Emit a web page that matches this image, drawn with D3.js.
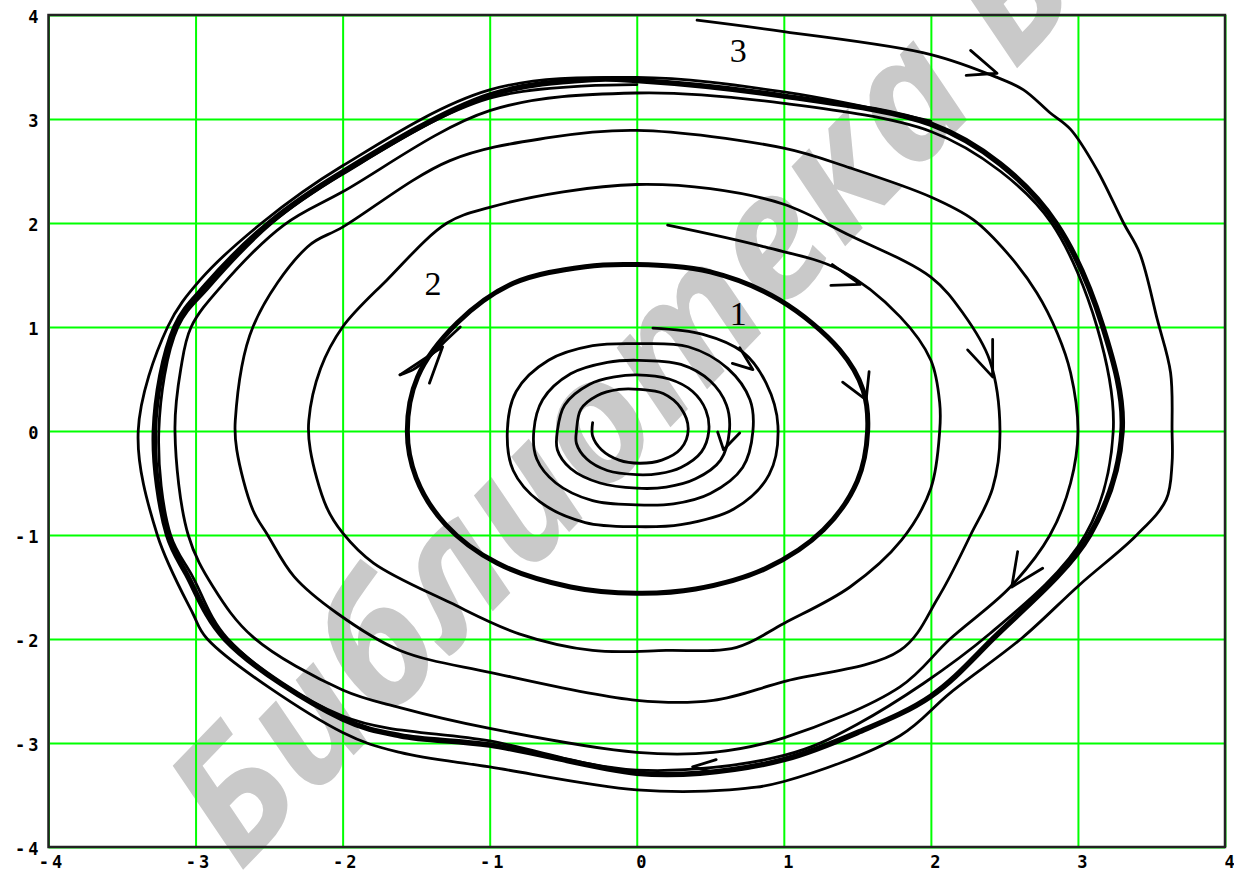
<!DOCTYPE html>
<html>
<head>
<meta charset="utf-8">
<script src="https://cdn.jsdelivr.net/npm/d3@7"></script>
<style>
  body { margin: 0; background: #fff; }
  svg { display: block; }
</style>
</head>
<body>
<svg id="chart" width="1234" height="872"></svg>
<script>
// Axis ticks and their labels
const xTicks = [-4, -3, -2, -1, 0, 1, 2, 3, 4];
const yTicks = [-4, -3, -2, -1, 0, 1, 2, 3, 4];
const tickLabels = ["-4", "-3", "-2", "-1", "0", "1", "2", "3", "4"];

// Trajectory 1: spirals into the stable focus at the origin
const spiral1 = [
  [0.11, 0.99], [0.45, 0.93], [0.72, 0.76], [0.88, 0.46], [0.96, 0.05],
  [0.90, -0.42], [0.66, -0.75], [0.30, -0.90], [0, -0.92], [-0.35, -0.88],
  [-0.66, -0.68], [-0.84, -0.38], [-0.88, 0], [-0.82, 0.38], [-0.60, 0.68],
  [-0.30, 0.82], [0, 0.84],
  [0.35, 0.81], [0.62, 0.60], [0.77, 0.30], [0.79, 0], [0.72, -0.35],
  [0.50, -0.60], [0.25, -0.70], [0, -0.71], [-0.30, -0.67], [-0.55, -0.50],
  [-0.68, -0.27], [-0.70, 0], [-0.64, 0.30], [-0.45, 0.55], [-0.20, 0.66], [0, 0.68],
  [0.30, 0.64], [0.50, 0.48], [0.61, 0.25], [0.63, 0], [0.57, -0.28],
  [0.40, -0.46], [0.20, -0.54], [0, -0.55], [-0.25, -0.50], [-0.45, -0.36],
  [-0.54, -0.18], [-0.54, 0], [-0.49, 0.25], [-0.32, 0.45], [-0.15, 0.52], [0, 0.54],
  [0.22, 0.50], [0.38, 0.38], [0.47, 0.20], [0.49, 0], [0.44, -0.20],
  [0.30, -0.35], [0.15, -0.41], [0, -0.42], [-0.20, -0.38], [-0.34, -0.27],
  [-0.41, -0.12], [-0.41, 0], [-0.38, 0.21], [-0.27, 0.34], [-0.12, 0.40], [0.02, 0.40],
  [0.18, 0.36], [0.30, 0.22], [0.35, 0.02], [0.30, -0.17], [0.17, -0.28], [0.02, -0.31],
  [-0.12, -0.28], [-0.24, -0.18], [-0.30, -0.05], [-0.30, 0.08]
];

// Unstable limit cycle (inner, bold)
const innerCycle = [
  [0, 1.60], [0.50, 1.53], [0.97, 1.26], [1.38, 0.78], [1.54, 0.39], [1.57, 0],
  [1.50, -0.48], [1.27, -0.95], [0.88, -1.32], [0.40, -1.52], [0, -1.56],
  [-0.45, -1.50], [-0.95, -1.27], [-1.30, -0.90], [-1.50, -0.45], [-1.56, 0],
  [-1.49, 0.52], [-1.22, 1.04], [-0.84, 1.42], [-0.35, 1.58]
];

// Trajectory 2: winds onto the inner cycle
const curve2 = [
  [-1.61, 0.54], [-1.52, 0.59], [-1.42, 0.70], [-1.32, 0.84], [-1.20, 1.00]
];

// Trajectory between the cycles: unwinds outward onto the outer cycle
const spiralOut = [
  [0.21, 1.98], [0.87, 1.77], [1.38, 1.55], [1.79, 1.10], [2.00, 0.68], [2.06, 0.27], [2.06, 0],
  [2.00, -0.55], [1.80, -1.05], [1.45, -1.50], [1.00, -1.85], [0.68, -2.08], [0.20, -2.11], [-0.30, -2.11],
  [-0.80, -1.95], [-1.27, -1.65], [-1.79, -1.27], [-2.00, -0.98], [-2.11, -0.73], [-2.22, -0.18], [-2.23, 0.10],
  [-2.15, 0.60], [-2.00, 1.00], [-1.70, 1.45], [-1.29, 2.00], [-1.00, 2.15], [-0.50, 2.30], [0, 2.37],
  [0.50, 2.33], [1.00, 2.18], [1.45, 1.88], [2.00, 1.48], [2.22, 1.13], [2.40, 0.68], [2.47, 0],
  [2.42, -0.55], [2.27, -1.00], [2.05, -1.60], [1.79, -2.11], [1.00, -2.41], [0.52, -2.59], [0, -2.59],
  [-1.00, -2.32], [-1.61, -2.11], [-2.04, -1.75], [-2.33, -1.40], [-2.51, -1.00], [-2.61, -0.76], [-2.72, -0.18], [-2.73, 0.10],
  [-2.61, 1.00], [-2.24, 1.77], [-2.00, 1.96], [-1.27, 2.60], [-0.60, 2.82], [0, 2.89],
  [1.00, 2.72], [1.45, 2.53], [2.00, 2.25], [2.29, 2.03], [2.52, 1.71], [2.72, 1.33], [2.86, 0.94], [2.95, 0.56], [3.00, 0],
  [2.95, -0.50], [2.81, -1.00], [2.54, -1.50], [2.13, -2.00], [1.79, -2.46], [1.00, -2.95], [0.52, -3.09], [0, -3.09],
  [-1.00, -2.86], [-1.61, -2.66], [-2.00, -2.49], [-2.61, -1.98], [-2.88, -1.50], [-3.05, -1.00], [-3.14, 0],
  [-3.10, 0.60], [-3.03, 1.00], [-2.82, 1.40], [-2.40, 1.98], [-2.00, 2.30], [-1.00, 3.08], [0, 3.25],
  [1.00, 3.15], [2.00, 2.88], [2.47, 2.50], [2.82, 2.00], [3.13, 1.00], [3.24, 0],
  [3.05, -1.00], [2.40, -1.95], [1.50, -2.82], [1.00, -3.12], [0, -3.26], [-1.00, -2.98], [-2.00, -2.74],
  [-2.78, -2.00], [-3.02, -1.40], [-3.17, -1.00], [-3.25, 0], [-3.12, 1.00], [-2.91, 1.38], [-2.48, 2.00], [-2.00, 2.47],
  [-1.00, 3.20], [0, 3.33]
];

// Stable limit cycle (outer, bold)
const outerCycle = [
  [0, 3.37], [1.00, 3.22], [2.00, 2.95], [2.47, 2.57], [2.85, 2.00], [3.17, 1.00], [3.30, 0],
  [3.08, -1.00], [2.42, -2.00], [2.00, -2.55], [1.50, -2.90], [1.00, -3.16], [0.43, -3.29], [0, -3.29],
  [-1.00, -3.02], [-1.61, -2.93], [-2.00, -2.77], [-2.80, -2.00], [-3.06, -1.38], [-3.19, -1.00],
  [-3.28, 0], [-3.14, 1.00], [-2.93, 1.40], [-2.50, 2.00], [-2.00, 2.49], [-1.00, 3.23], [-0.30, 3.38]
];

// Trajectory 3: comes in from outside onto the outer cycle
const curve3 = [
  [0.41, 3.95], [1.00, 3.84], [2.00, 3.62], [2.45, 3.40], [2.63, 3.28], [2.81, 3.06], [2.95, 2.90],
  [3.13, 2.51], [3.31, 2.00], [3.42, 1.71], [3.54, 1.07], [3.63, 0.56], [3.64, 0], [3.64, -0.31],
  [3.60, -0.66], [3.40, -1.00], [3.01, -1.48], [2.62, -1.99], [2.13, -2.52], [1.79, -2.93],
  [1.00, -3.37], [0.63, -3.45], [0, -3.45], [-1.00, -3.23], [-1.61, -3.09], [-2.00, -2.90],
  [-2.92, -2.00], [-3.02, -1.75], [-3.26, -1.00], [-3.39, 0], [-3.19, 1.00], [-2.97, 1.45],
  [-2.55, 2.00], [-2.00, 2.55], [-1.00, 3.28], [0, 3.40], [1.00, 3.26], [2.00, 2.98]
];

// Direction arrows: tip and the two barb ends
const arrows = [
  { tip: [0.79, 0.59], a: [0.70, 0.80], b: [0.65, 0.65] },
  { tip: [0.59, -0.18], a: [0.55, -0.01], b: [0.70, -0.02] },
  { tip: [-1.32, 0.81], a: [-1.41, 0.46], b: [-1.61, 0.54] },
  { tip: [1.56, 0.30], a: [1.40, 0.47], b: [1.58, 0.57] },
  { tip: [1.52, 1.41], a: [1.33, 1.60], b: [1.32, 1.40] },
  { tip: [2.42, 0.52], a: [2.25, 0.78], b: [2.42, 0.88] },
  { tip: [2.55, -1.50], a: [2.59, -1.16], b: [2.76, -1.32] },
  { tip: [2.45, 3.44], a: [2.27, 3.66], b: [2.24, 3.42] },
  { tip: [0.38, -3.23], a: [0.54, -3.16], b: [0.52, -3.28] }
];

// Trajectory numbers
const curveLabels = [
  { text: "1", x: 0.69, y: 1.02 },
  { text: "2", x: -1.385, y: 1.31 },
  { text: "3", x: 0.69, y: 3.55 }
];

const W = 1234, H = 872;
const plotLeft = 48.5, plotRight = 1225, plotTop = 15, plotBottom = 847;

const svg = d3.select("#chart");
svg.append("rect").attr("width", W).attr("height", H).attr("fill", "#fff");

// Library watermark
svg.append("text")
  .attr("transform", "translate(240,873) rotate(-46)")
  .attr("font-family", "Open Sans, Noto Sans, sans-serif")
  .attr("font-style", "italic")
  .attr("font-weight", "bold")
  .attr("font-size", 172)
  .attr("fill", "#c9c9c9")
  .text("Библиотека БГУИР");

const x = d3.scaleLinear().domain([-4, 4]).range([plotLeft, plotRight]);
const y = d3.scaleLinear().domain([-4, 4]).range([plotBottom, plotTop]);

// Green grid
const gridX = svg.append("g").attr("transform", `translate(0,${plotBottom})`)
  .call(d3.axisBottom(x).tickValues(xTicks).tickSize(-(plotBottom - plotTop)).tickFormat(""));
const gridY = svg.append("g").attr("transform", `translate(${plotLeft},0)`)
  .call(d3.axisLeft(y).tickValues(yTicks).tickSize(-(plotRight - plotLeft)).tickFormat(""));
[gridX, gridY].forEach(g => {
  g.select(".domain").remove();
  g.selectAll(".tick line").attr("stroke", "#00ff00").attr("stroke-width", 2);
});

// Tick labels
const fmt = d => tickLabels[xTicks.indexOf(d)];
const axX = svg.append("g").attr("transform", `translate(0,${plotBottom})`)
  .call(d3.axisBottom(x).tickValues(xTicks).tickSize(0).tickPadding(9).tickFormat(fmt));
const axY = svg.append("g").attr("transform", `translate(${plotLeft},0)`)
  .call(d3.axisLeft(y).tickValues(yTicks).tickSize(0).tickPadding(10).tickFormat(fmt));
[axX, axY].forEach(g => {
  g.select(".domain").remove();
  g.selectAll("text")
    .attr("font-family", "DejaVu Sans Mono, monospace")
    .attr("font-weight", "bold")
    .attr("font-size", 17)
    .attr("fill", "#000")
    .attr("letter-spacing", d => d < 0 ? 3 : 0);
});
axX.selectAll("text").attr("dx", d => d < 0 ? 3 : 4);
axY.selectAll("text").attr("dy", "0.42em").attr("dx", d => d < 0 ? 3 : 0);

// Trajectories
const line = d3.line().x(d => x(d[0])).y(d => y(d[1])).curve(d3.curveCatmullRom.alpha(0.5));
const closed = d3.line().x(d => x(d[0])).y(d => y(d[1])).curve(d3.curveCatmullRomClosed.alpha(0.5));

const paths = svg.append("g").attr("fill", "none").attr("stroke", "#000")
  .attr("stroke-linejoin", "round").attr("stroke-linecap", "round");
paths.append("path").attr("d", closed(outerCycle)).attr("stroke-width", 5.5);
paths.append("path").attr("d", closed(innerCycle)).attr("stroke-width", 5);
[spiral1, curve2, spiralOut, curve3].forEach(pts => {
  paths.append("path").attr("d", line(pts)).attr("stroke-width", 2.8);
});

// Arrow heads
paths.selectAll(".arrow").data(arrows).join("path")
  .attr("class", "arrow")
  .attr("stroke-width", 2.8)
  .attr("d", d => `M${x(d.a[0])},${y(d.a[1])}L${x(d.tip[0])},${y(d.tip[1])}L${x(d.b[0])},${y(d.b[1])}`);

// Frame
svg.append("rect")
  .attr("x", plotLeft).attr("y", plotTop)
  .attr("width", plotRight - plotLeft).attr("height", plotBottom - plotTop)
  .attr("fill", "none").attr("stroke", "#222").attr("stroke-width", 2.5);

// Trajectory numbers
svg.selectAll(".num").data(curveLabels).join("text")
  .attr("class", "num")
  .attr("x", d => x(d.x)).attr("y", d => y(d.y))
  .attr("text-anchor", "middle")
  .attr("font-family", "Liberation Serif, Times New Roman, serif")
  .attr("font-size", 34)
  .attr("fill", "#000")
  .text(d => d.text);
</script>
</body>
</html>
